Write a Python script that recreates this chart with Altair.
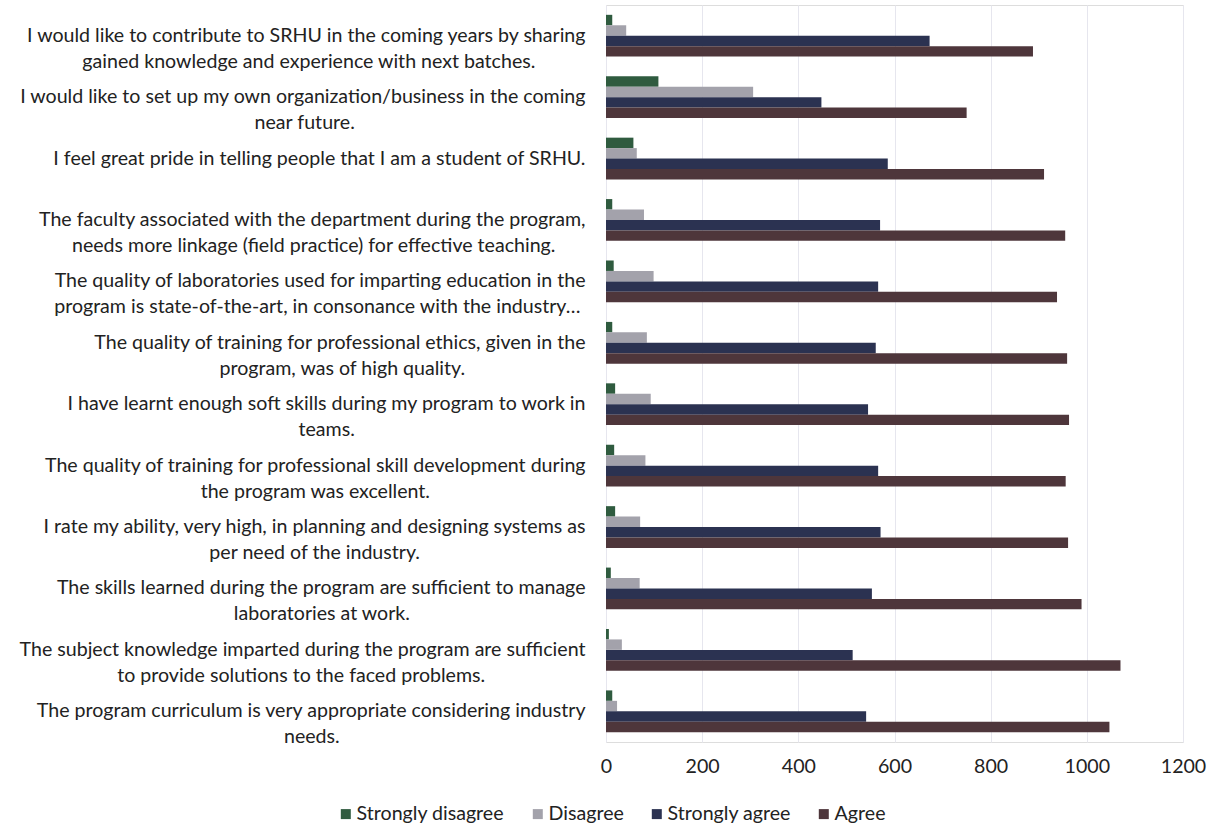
import altair as alt
import pandas as pd

# ---------------- data ----------------
statement_lines = [
    ["I would like to contribute to SRHU in the coming years by sharing",
     "gained knowledge and experience with next batches."],
    ["I would like to set up my own organization/business in the coming",
     "near future."],
    ["I feel great pride in telling people that I am a student of SRHU."],
    ["The faculty associated with the department during the program,",
     "needs more linkage (field practice) for effective teaching."],
    ["The quality of laboratories used for imparting education in the",
     "program is state-of-the-art, in consonance with the industry\u2026"],
    ["The quality of training for professional ethics, given in the",
     "program, was of high quality."],
    ["I have learnt enough soft skills during my program to work in",
     "teams."],
    ["The quality of training for professional skill development during",
     "the program was excellent."],
    ["I rate my ability, very high, in planning and designing systems as",
     "per need of the industry."],
    ["The skills learned during the program are sufficient to manage",
     "laboratories at work."],
    ["The subject knowledge imparted during the program are sufficient",
     "to provide solutions to the faced problems."],
    ["The program curriculum is very appropriate considering industry",
     "needs."],
]

series = ["Strongly disagree", "Disagree", "Strongly agree", "Agree"]
strongly_disagree = [13, 109, 57, 13, 16, 13, 19, 17, 19, 10, 6, 13]
disagree = [42, 306, 64, 79, 99, 85, 93, 82, 71, 70, 33, 23]
strongly_agree = [673, 448, 586, 570, 566, 561, 545, 566, 571, 553, 513, 541]
agree = [888, 750, 911, 955, 938, 959, 963, 956, 961, 989, 1070, 1047]
x_ticks = [0, 200, 400, 600, 800, 1000, 1200]
colors = ["#2f5b3f", "#a3a2ab", "#2b3251", "#4e363b"]

FONT = "Lato"
FONT_SIZE = 19.6
TEXT_COLOR = "#222222"

# ---------------- label centring (lines centred, block right-aligned) ----------------
_w = {' ': .226, 'a': .479, 'b': .525, 'c': .423, 'd': .525, 'e': .498, 'f': .305,
      'g': .471, 'h': .525, 'i': .229, 'j': .239, 'k': .455, 'l': .229, 'm': .799,
      'n': .525, 'o': .527, 'p': .525, 'q': .525, 'r': .349, 's': .391, 't': .335,
      'u': .525, 'v': .452, 'w': .715, 'x': .433, 'y': .453, 'z': .395,
      'I': .252, 'T': .487, 'S': .459, 'R': .543, 'H': .623, 'U': .642,
      '.': .252, ',': .250, '(': .303, ')': .303, '/': .386, '-': .306,
      '\u2026': .69}
K = 1.083      # Lato / Calibri width ratio (approx.)
NBSP_EM = 0.258


def text_em(s):
    return sum(_w.get(c, .5) for c in s) * K


def pad_line(line, width_max):
    pad = (width_max - text_em(line)) / 2.0
    n = int(round(pad / NBSP_EM))
    if n == 0:
        return line
    # trailing no-break spaces, closed by a zero-width space so they are kept
    return line + "\u00a0" * n + "\u200b"


statement_keys = []
for lines in statement_lines:
    wmax = max(text_em(l) for l in lines)
    statement_keys.append("\n".join(pad_line(l, wmax) for l in lines))

rows = []
for i, key in enumerate(statement_keys):
    for s, vals in zip(series, [strongly_disagree, disagree, strongly_agree, agree]):
        rows.append({"statement": key, "series": s, "value": vals[i]})
df = pd.DataFrame(rows)

# ---------------- chart ----------------
chart = alt.Chart(df).mark_bar().encode(
    x=alt.X("value:Q",
            scale=alt.Scale(domain=[0, 1200], nice=False, zero=True),
            axis=alt.Axis(values=x_ticks, title=None, grid=True, gridColor="#e6e6ee",
                          gridWidth=1, domain=False, ticks=False, format="d",
                          labelFont=FONT, labelFontSize=FONT_SIZE, labelColor=TEXT_COLOR,
                          labelPadding=15, labelFlush=False)),
    y=alt.Y("statement:N", sort=statement_keys,
            scale=alt.Scale(paddingInner=0.32, paddingOuter=0.16),
            axis=alt.Axis(title=None, domain=False, ticks=False, grid=False,
                          labelExpr="split(datum.label, '\\n')",
                          labelLineHeight=26, labelAlign="right", labelBaseline="middle",
                          labelPadding=21, labelLimit=0,
                          labelFont=FONT, labelFontSize=FONT_SIZE, labelColor=TEXT_COLOR)),
    yOffset=alt.YOffset("series:N", sort=series),
    color=alt.Color("series:N", sort=series,
                    scale=alt.Scale(domain=series, range=colors),
                    legend=alt.Legend(orient="none", legendX=-270, legendY=799,
                                      direction="horizontal", title=None,
                                      symbolType="square", symbolSize=100,
                                      symbolStrokeWidth=0, labelOffset=1,
                                      columnPadding=23, padding=0,
                                      labelFont=FONT, labelFontSize=FONT_SIZE,
                                      labelColor=TEXT_COLOR)),
).properties(
    width=577, height=737,
    autosize=alt.AutoSizeParams(type="none"),
    padding={"left": 606, "top": 5, "right": 33, "bottom": 83},
).configure_view(stroke=None).configure(background="white")

chart.save("out.html", embed_options={"renderer": "svg", "actions": False})
